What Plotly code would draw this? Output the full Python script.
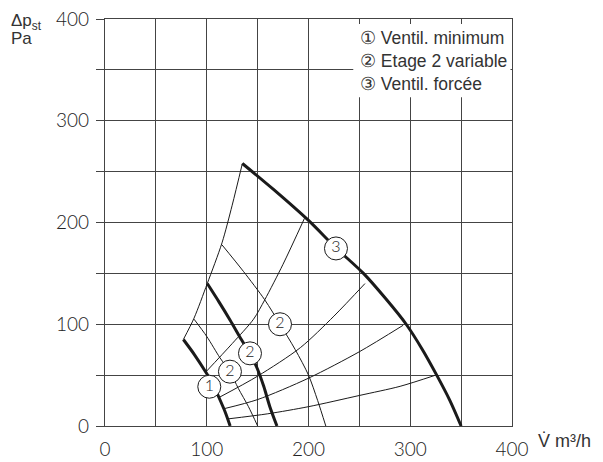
import plotly.graph_objects as go

# ---- data ----
curve1_x = [77, 88, 99, 106, 112, 118, 123]
curve1_y = [85, 70, 53, 41, 28, 14, 0]

curve2_x = [100.5, 112, 123, 134, 142.5, 149, 156, 162, 169]
curve2_y = [140, 122, 104, 85, 71, 58, 39, 19, 0]

curve3_x = [135, 165, 200, 227, 254, 276, 296, 312, 326, 339, 350]
curve3_y = [258, 233, 202, 175, 150, 125, 100, 75, 50, 25, 0]

boundary_x = [77, 87.5, 100.5, 115, 125, 135]
boundary_y = [85, 106, 140, 180, 217, 258]

sys_a_x = [99, 125, 146, 157, 175, 196]
sys_a_y = [53, 81, 105, 124, 159, 204]
sys_b_x = [112, 150, 192, 225, 255.5]
sys_b_y = [28, 49, 77, 108, 140]
sys_c_x = [117, 150, 200, 250, 293]
sys_c_y = [17, 26, 47, 73, 99]
sys_d_x = [121, 160, 200, 250, 290, 325]
sys_d_y = [7, 12, 19, 30, 39, 50]

stage_e_x = [87.5, 100, 113, 123, 131, 141, 150]
stage_e_y = [105, 88, 67, 53, 37, 19, 0]
stage_f_x = [115, 136, 157, 172, 187, 200, 209, 217]
stage_f_y = [178, 152, 124, 100, 75, 50, 25, 0]

label_x = [102.5, 122.8, 142.5, 172, 227]
label_y = [38.6, 53.4, 71.4, 100, 174.5]
label_text = ["1", "2", "2", "2", "3"]

tick_vals = [0, 50, 100, 150, 200, 250, 300, 350, 400]
tick_text = ["0", "", "100", "", "200", "", "300", "", "400"]

legend_items = ["\u2460 Ventil. minimum", "\u2461 Etage 2 variable", "\u2462 Ventil. forc\u00e9e"]
legend_y = [381, 358.5, 336.5]

INK = "#1a1a1a"
GRID = "#444444"
DIN = dict(family="Lato, Roboto", size=19, color="#222222", weight=300)
SANS = dict(family="Liberation Sans, Arial, sans-serif", size=17.5, color="#333333")

fig = go.Figure()

thin = [(boundary_x, boundary_y), (sys_a_x, sys_a_y), (sys_b_x, sys_b_y),
        (sys_c_x, sys_c_y), (sys_d_x, sys_d_y), (stage_e_x, stage_e_y),
        (stage_f_x, stage_f_y)]
for xs, ys in thin:
    fig.add_trace(go.Scatter(x=xs, y=ys, mode="lines",
                             line=dict(color=INK, width=1, shape="spline", smoothing=0.8),
                             hoverinfo="skip"))

for xs, ys in [(curve1_x, curve1_y), (curve2_x, curve2_y), (curve3_x, curve3_y)]:
    fig.add_trace(go.Scatter(x=xs, y=ys, mode="lines",
                             line=dict(color=INK, width=3, shape="spline", smoothing=0.8),
                             hoverinfo="skip"))

fig.add_trace(go.Scatter(x=label_x, y=label_y, mode="markers+text", text=label_text,
                         textposition="middle center",
                         textfont=dict(family="Lato, Roboto", size=16, color="#222222", weight=300),
                         marker=dict(size=23, color="white", line=dict(color=INK, width=1)),
                         hoverinfo="skip"))

axis_common = dict(range=[0, 400], tickvals=tick_vals, ticktext=tick_text,
                   showgrid=True, gridcolor=GRID, gridwidth=1.2,
                   showline=True, linecolor=GRID, linewidth=1.2, mirror=True,
                   zeroline=False, tickfont=DIN, fixedrange=True, automargin=False,
                   ticklabeloverflow="allow")

# the page body adds an 8px offset, so the figure is sized to fit inside the window
fig.update_layout(
    width=595, height=454,
    margin=dict(l=97, r=91, t=11, b=36, autoexpand=False),
    paper_bgcolor="white", plot_bgcolor="white",
    showlegend=False,
    xaxis=dict(**axis_common, ticks="", ticklabelstandoff=6),
    yaxis=dict(**axis_common, ticks="outside", ticklen=8, tickcolor=GRID, tickwidth=1.2,
               ticklabelstandoff=3),
)

# white box behind legend text
fig.add_shape(type="rect", xref="x", yref="y", x0=244, x1=398.5, y0=323, y1=395,
              fillcolor="white", line=dict(width=0), layer="between")

# small downward ticks at x=0 and x=400
for xv in (0, 400):
    fig.add_shape(type="line", xref="x", yref="y", ysizemode="pixel", yanchor=0,
                  x0=xv, x1=xv, y0=0, y1=-8, line=dict(color=GRID, width=1.2))

for txt, yv in zip(legend_items, legend_y):
    fig.add_annotation(x=248.6, y=yv, xref="x", yref="y", text=txt, showarrow=False,
                       xanchor="left", yanchor="middle", font=SANS)

fig.add_annotation(xref="paper", yref="paper", x=0, y=1, xshift=-96, yshift=-3,
                   xanchor="left", yanchor="middle", showarrow=False,
                   text="\u0394p<sub>st</sub>", font=dict(family="Liberation Sans, Arial", size=17, color="#333333"))
fig.add_annotation(xref="paper", yref="paper", x=0, y=1, xshift=-96, yshift=-19,
                   xanchor="left", yanchor="middle", showarrow=False,
                   text="Pa", font=dict(family="Liberation Sans, Arial", size=17, color="#333333"))
fig.add_annotation(xref="paper", yref="paper", x=1, y=0, xshift=24, yshift=-15,
                   xanchor="left", yanchor="middle", showarrow=False,
                   text="V\u0307 m\u00b3/h", font=dict(family="Liberation Sans, Arial", size=18, color="#333333"))

fig.write_html("out.html")
